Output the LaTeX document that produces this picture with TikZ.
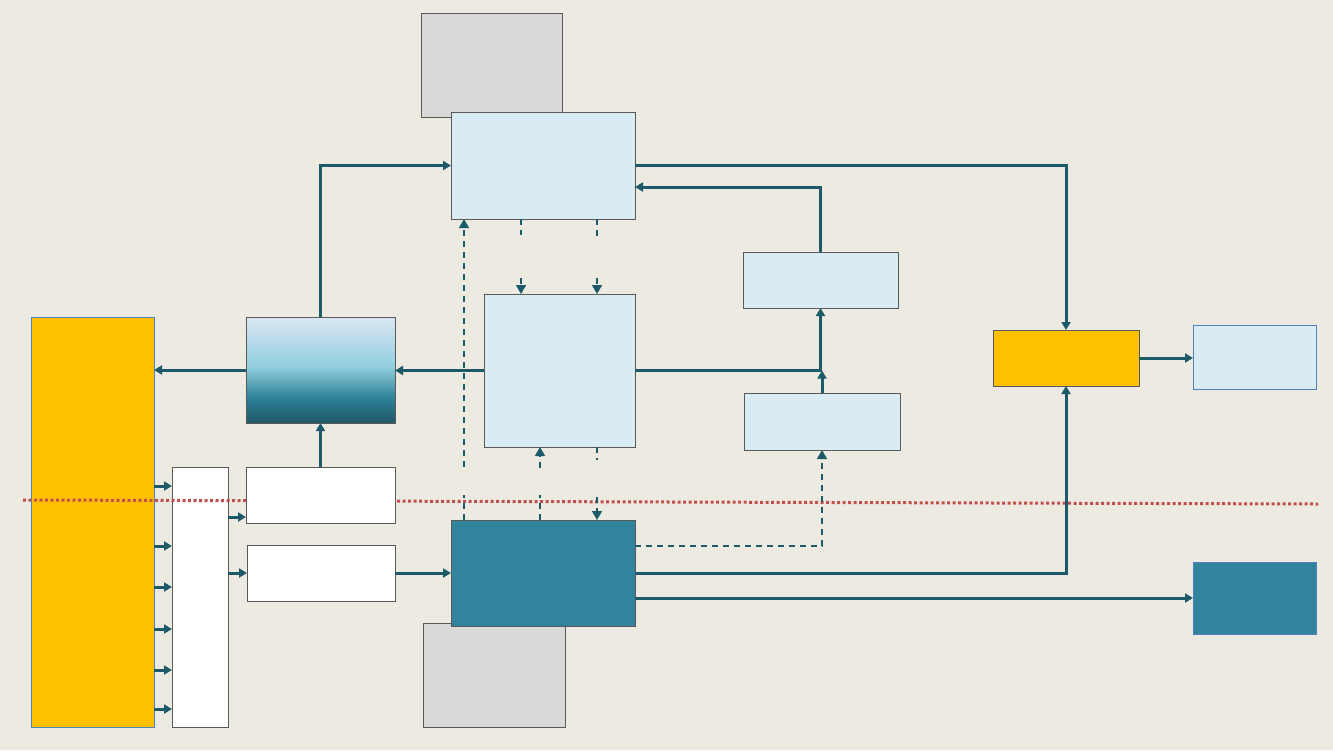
\documentclass[tikz,border=0pt]{standalone}
\usetikzlibrary{arrows.meta}
\definecolor{bg}{HTML}{EDEBE1}
\definecolor{bord}{HTML}{595959}
\definecolor{bluebord}{HTML}{4F81BD}
\definecolor{lblue}{HTML}{DAECF3}
\definecolor{gry}{HTML}{D9D9D9}
\definecolor{yel}{HTML}{FFC000}
\definecolor{teal}{HTML}{31849B}
\definecolor{arrc}{HTML}{1D5A69}
\definecolor{redd}{HTML}{C0504D}
\definecolor{gA}{HTML}{DAE6F3}
\definecolor{gB}{HTML}{93CFDF}
\definecolor{gC}{HTML}{2E8299}
\definecolor{gD}{HTML}{1F5868}
\pgfdeclareverticalshading{boxgrad}{100bp}{color(0bp)=(gD); color(25bp)=(gD); color(37bp)=(gC); color(52bp)=(gB); color(75bp)=(gA); color(100bp)=(gA)}
\tikzset{
  box/.style={draw=bord, line width=1pt, inner sep=0pt, outer sep=0pt, anchor=north west},
  arr/.style={draw=arrc, line width=3pt, -{Triangle[length=8pt,width=9pt]}},
  darr/.style={draw=arrc, line width=1.6pt, dash pattern=on 6pt off 5pt, -{Triangle[length=9pt,width=10pt]}},
  dln/.style={draw=arrc, line width=1.6pt, dash pattern=on 6pt off 5pt},
  redline/.style={draw=redd, line width=3pt, dash pattern=on 3pt off 2.5pt}
}
\begin{document}
\begin{tikzpicture}[x=1pt,y=-1pt]
\fill[bg] (0,0) rectangle (1333,750);
\useasboundingbox (0,0) rectangle (1333,750);
% nodes
\node[box, fill=gry, minimum width=141pt, minimum height=104pt] (gtop) at (421,13) {};
\node[box, fill=lblue, minimum width=184pt, minimum height=107pt] (tb) at (451,112) {};
\node[box, fill=lblue, minimum width=151pt, minimum height=153pt] (mid) at (484,294) {};
\node[box, shading=boxgrad, minimum width=149pt, minimum height=106pt] (grad) at (246,317) {};
\node[box, draw=bluebord, fill=yel, minimum width=123pt, minimum height=410pt] (yt) at (31,317) {};
\node[box, fill=white, minimum width=56pt, minimum height=260pt] (wt) at (172,467) {};
\node[box, fill=gry, minimum width=142pt, minimum height=104pt] (gbot) at (423,623) {};
\node[box, fill=teal, minimum width=184pt, minimum height=106pt] (dt) at (451,520) {};
\node[box, fill=lblue, minimum width=155pt, minimum height=56pt] (r1) at (743,252) {};
\node[box, fill=lblue, minimum width=156pt, minimum height=57pt] (r2) at (744,393) {};
\node[box, fill=yel, minimum width=146pt, minimum height=56pt] (ys) at (993,330) {};
\node[box, draw=bluebord, fill=lblue, minimum width=123pt, minimum height=64pt] (rl) at (1193,325) {};
\node[box, draw=bluebord, fill=teal, minimum width=123pt, minimum height=72pt] (rt) at (1193,562) {};
% helper coordinates
\coordinate (y187) at (0,187);
\coordinate (y546) at (0,546);
\coordinate (y573) at (0,573);
\coordinate (y598) at (0,598);
\coordinate (y517) at (0,517);
\coordinate (x464) at (464,0);
\coordinate (x521) at (521,0);
\coordinate (x540) at (540,0);
\coordinate (x597) at (597,0);
\coordinate (x822) at (822,0);
% yellow tall -> white tall
\foreach \yy in {486,546,587,629,670,709}{
  \coordinate (ya) at (0,\yy);
  \draw[arr] (yt.east |- ya) -- (wt.west |- ya);
}
% red dotted line
\coordinate (redL) at (23,500);
\coordinate (redR) at (1318,504);
\draw[redline] (redL) -- (redR);
% white boxes drawn over red line
\node[box, fill=white, minimum width=149pt, minimum height=56pt] (w1) at (246,467) {};
\node[box, fill=white, minimum width=148pt, minimum height=56pt] (w2) at (247,545) {};
% solid connectors
\draw[arr] (grad.north) |- (tb.west);
\draw[arr] (tb.east) -| (ys.north);
\draw[arr] (r1.north) |- (tb.east |- y187);
\draw[arr] (mid.east) -| (r1.south);
\draw[arr] (r2.north) -- (r2.north |- mid.east);
\draw[arr] (mid.west) -- (grad.east |- mid.west);
\draw[arr] (grad.west) -- (yt.east |- grad.west);
\draw[arr] (w1.north) -- (grad.south);
\draw[arr] (wt.east |- y517) -- (w1.west |- y517);
\draw[arr] (wt.east |- y573) -- (w2.west |- y573);
\draw[arr] (w2.east |- y573) -- (dt.west |- y573);
\draw[arr] (dt.east |- y573) -| (ys.south);
\draw[arr] (dt.east |- y598) -- (rt.west |- y598);
\draw[arr] (ys.east) -- (rl.west |- ys.east);
% dashed connectors
\draw[dln] (tb.south -| x521) -- ++(0,16);
\draw[darr] ([yshift=16pt]mid.north -| x521) -- (mid.north -| x521);
\draw[dln] (tb.south -| x597) -- ++(0,20);
\draw[darr] ([yshift=16pt]mid.north -| x597) -- (mid.north -| x597);
\draw[dln] (dt.north -| x464) -- ++(0,-25);
\draw[darr] ([yshift=53pt]dt.north -| x464) -- (tb.south -| x464);
\draw[dln] (dt.north -| x540) -- ++(0,-25);
\draw[darr] ([yshift=52pt]dt.north -| x540) -- (mid.south -| x540);
\draw[dln] (mid.south -| x597) -- ++(0,13);
\draw[darr] ([yshift=23pt]dt.north -| x597) -- (dt.north -| x597);
\draw[darr] (dt.east |- y546) -| (r2.south -| x822);
\end{tikzpicture}
\end{document}
